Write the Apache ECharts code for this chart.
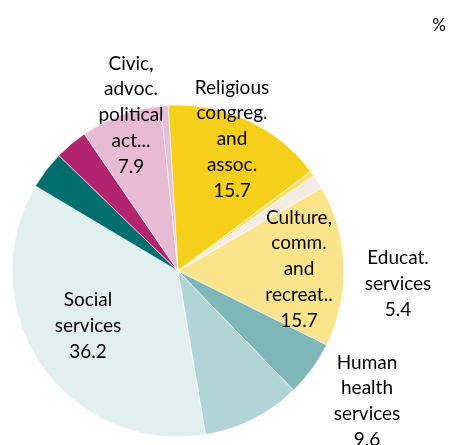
<!DOCTYPE html>
<html>
<head>
<meta charset="utf-8">
<script src="https://cdn.jsdelivr.net/npm/echarts@6/dist/echarts.min.js"></script>
<style>
  html, body { margin: 0; padding: 0; background: #fff; }
  #chart { width: 453px; height: 445px; }
</style>
</head>
<body>
<div id="chart"></div>
<script>
// Shares of non-profit institutions by field of activity, in percent
const categories = [
  'Religious\ncongreg.\nand\nassoc.',
  'Other group 1',
  'Other group 2',
  'Culture,\ncomm.\nand\nrecreat..',
  'Educat.\nservices',
  'Human\nhealth\nservices',
  'Social\nservices',
  'Other group 3',
  'Other group 4',
  'Civic,\nadvoc.\npolitical\nact...',
  'Other group 5'
];
const shares = [15.7, 0.5, 1.4, 15.7, 5.4, 9.6, 36.2, 3.7, 3.2, 7.9, 0.7];
const labelled = [true, false, false, true, true, true, true, false, false, true, false];

const colors = [
  '#F6CF1B', '#F9DF6B', '#F7ECE4', '#FBE48B', '#7FB7B9', '#B1D5D6',
  '#E2EFEF', '#006E6E', '#B3246F', '#E8BAD4', '#E9BFD7'
];

// Label anchor points (block centres) for the labelled slices
const labelSpots = {
  0: [232, 139],
  3: [299, 269],
  4: [398, 284],
  5: [367, 401],
  6: [88, 326],
  9: [131, 115]
};

const chart = echarts.init(document.getElementById('chart'));
chart.setOption({
  animation: false,
  title: {
    text: '%',
    right: 2,
    top: 12,
    textStyle: { fontFamily: 'Lato', fontSize: 17, fontWeight: 'normal', color: '#000' }
  },
  series: [{
    type: 'pie',
    center: [178, 271],
    radius: 166,
    startAngle: 93.4,
    clockwise: true,
    avoidLabelOverlap: false,
    itemStyle: { borderColor: '#ffffff', borderWidth: 0.6 },
    labelLine: { show: false },
    label: {
      show: true,
      position: 'inside',
      formatter: p => p.name + '\n' + p.value.toFixed(1),
      fontFamily: 'Lato',
      fontSize: 19,
      lineHeight: 25.7,
      color: '#000',
      align: 'center',
      verticalAlign: 'middle'
    },
    labelLayout: params => {
      const spot = labelSpots[params.dataIndex];
      if (!spot) return {};
      return { x: spot[0], y: spot[1], align: 'center', verticalAlign: 'middle' };
    },
    emphasis: { disabled: true },
    data: shares.map((v, i) => ({
      name: categories[i],
      value: v,
      itemStyle: { color: colors[i] },
      label: { show: labelled[i] }
    }))
  }]
});
</script>
</body>
</html>
